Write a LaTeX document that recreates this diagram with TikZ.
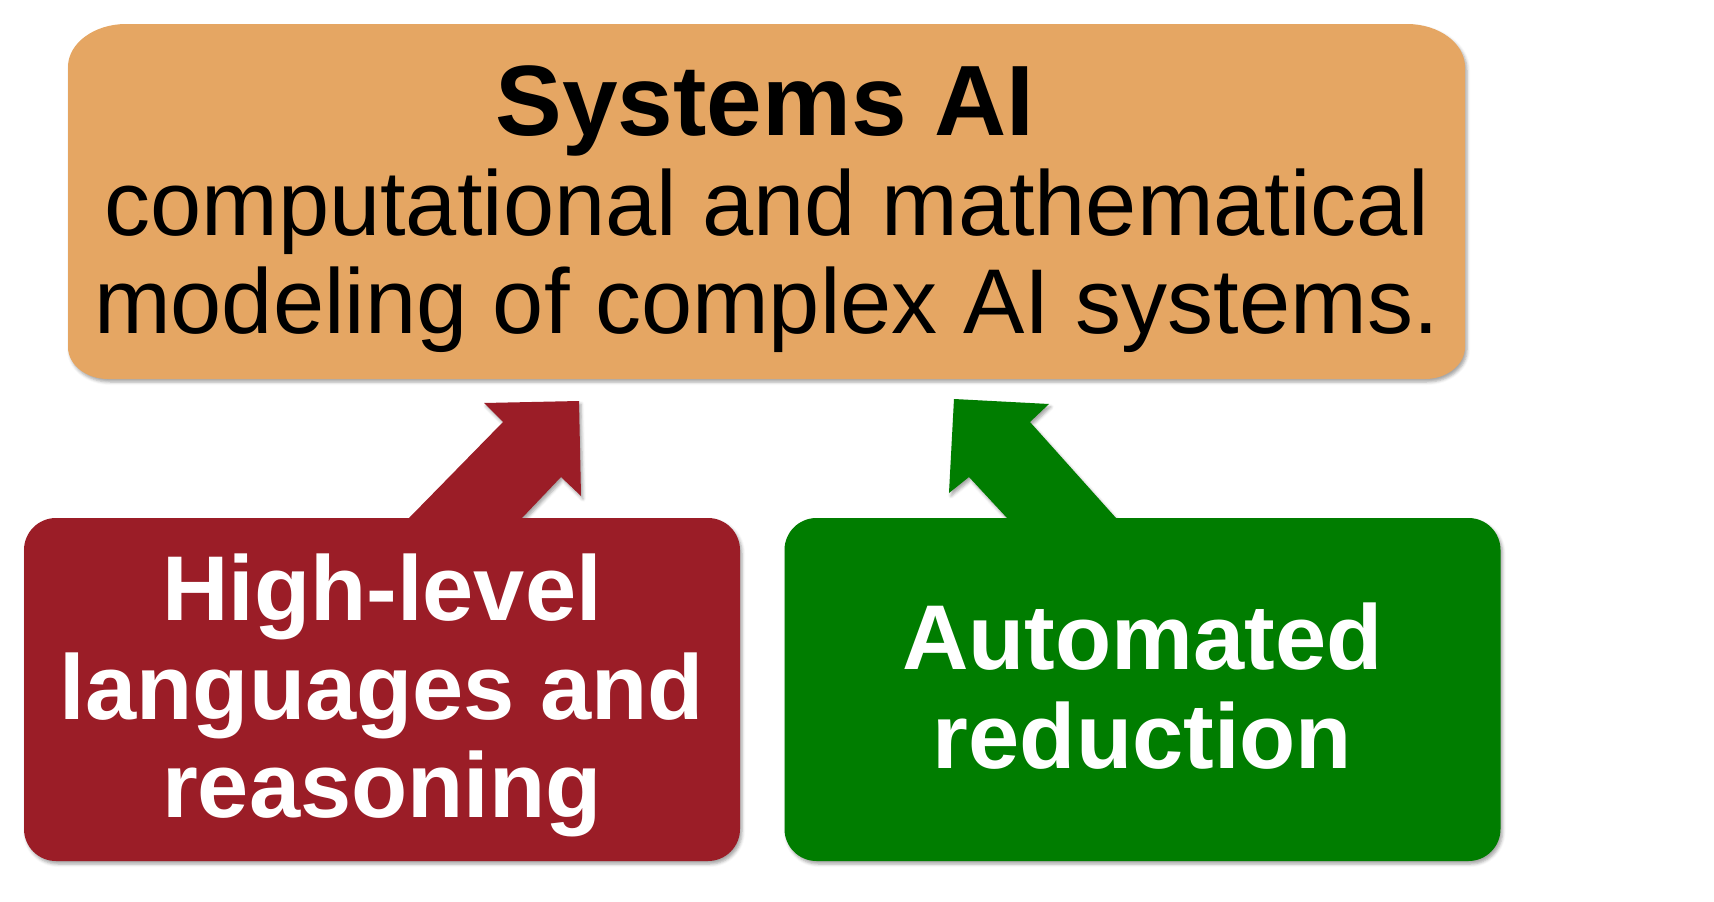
\documentclass[tikz,border=0pt]{standalone}
\usepackage{fontspec}
\setmainfont{Liberation Sans}
\usetikzlibrary{shadows.blur}

\definecolor{boxorange}{RGB}{229,166,99}
\definecolor{boxred}{RGB}{155,29,39}
\definecolor{boxgreen}{RGB}{0,125,0}

\tikzset{
  softshadow/.style={blur shadow={shadow xshift=2pt, shadow yshift=-3pt,
      shadow blur radius=3pt, shadow opacity=35}},
  lowbox/.style={rectangle, rounded corners=32pt, minimum width=716pt,
      minimum height=343pt, inner sep=0pt, softshadow},
  titletext/.style={anchor=base, font=\fontsize{100}{100}\selectfont\bfseries},
  subtext/.style={anchor=base, font=\fontsize{92}{92}\selectfont},
  boxtext/.style={anchor=base, text=white, font=\fontsize{92}{92}\selectfont\bfseries},
  fatarrow/.style={softshadow},
}

\begin{document}
\begin{tikzpicture}[x=1pt,y=-1pt]
\useasboundingbox (0,0) rectangle (1714,902);

% top box with elliptical corners
\fill[boxorange, softshadow]
  (126,24) -- (1407,24)
  .. controls (1439,24) and (1465,43.3) .. (1465,67)
  -- (1465,347)
  .. controls (1465,364.7) and (1447.1,379) .. (1425,379)
  -- (108,379)
  .. controls (85.9,379) and (68,364.7) .. (68,347)
  -- (68,67)
  .. controls (68,43.3) and (94,24) .. (126,24) -- cycle;

\node[titletext] (title) at (765,135) {Systems AI};
\node[subtext] (line1) at (766.5,235) {computational and mathematical};
\node[subtext] (line2) at (766.5,333) {modeling of complex AI systems.};

% block arrows rising from the lower boxes
\fill[boxred, fatarrow]
  (409,518) -- (503,422) -- (484,403) -- (579,401) -- (581,496)
  -- (561,477) -- (522,518) -- cycle;
\fill[boxgreen, fatarrow]
  (1007,518) -- (969,477) -- (949,493) -- (954,399) -- (1049,404)
  -- (1030,422) -- (1116,518) -- cycle;

% lower boxes
\node[lowbox, fill=boxred] (lang) at (382,689.5) {};
\node[lowbox, fill=boxgreen] (red) at (1142.5,689.5) {};

\node[boxtext] (l1) at (382,620) {High-level};
\node[boxtext] (l2) at (382,719) {languages and};
\node[boxtext] (l3) at (382,817) {reasoning};

\node[boxtext] (r1) at (1142.5,669) {Automated};
\node[boxtext] (r2) at (1142.5,768) {reduction};
\end{tikzpicture}
\end{document}
